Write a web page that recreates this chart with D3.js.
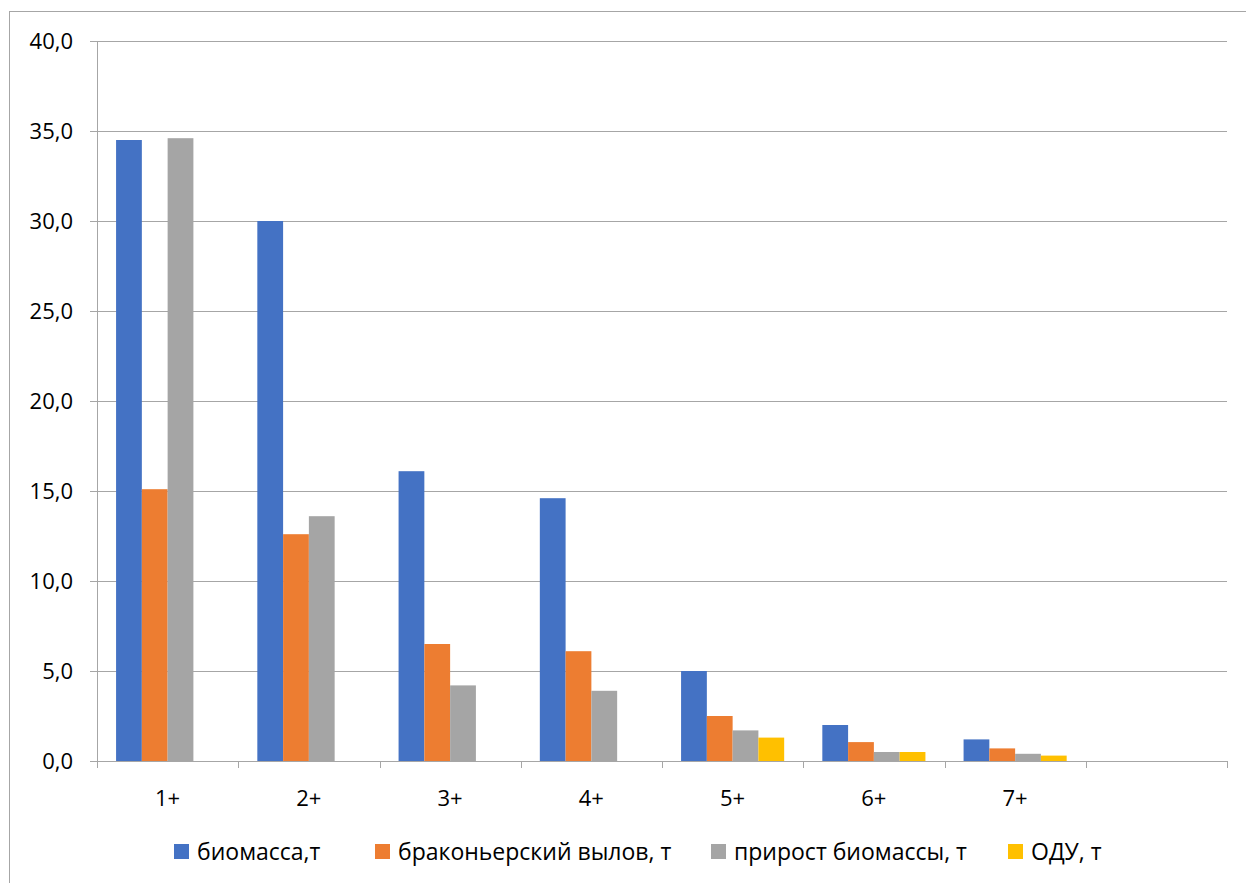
<!DOCTYPE html>
<html><head><meta charset="utf-8">
<script src="https://cdn.jsdelivr.net/npm/d3@7"></script>
<style>body{margin:0;background:#fff}svg{font-family:"Open Sans","DejaVu Sans",sans-serif}</style>
</head><body><div id="chart"></div>
<script>
// age groups (last slot empty in the original)
const categories = ["1+", "2+", "3+", "4+", "5+", "6+", "7+", ""];
const seriesNames = ["биомасса,т", "браконьерский вылов, т", "прирост биомассы, т", "ОДУ, т"];
const biomass = [34.5, 30.0, 16.1, 14.6, 5.0, 2.0, 1.2, 0];
const poaching = [15.1, 12.6, 6.5, 6.1, 2.5, 1.05, 0.7, 0];
const growth = [34.6, 13.6, 4.2, 3.9, 1.7, 0.5, 0.4, 0];
const tac = [0, 0, 0, 0, 1.3, 0.5, 0.3, 0];
const colors = ["#4472c4", "#ed7d31", "#a5a5a5", "#ffc000"];
const yTicks = [0, 5, 10, 15, 20, 25, 30, 35, 40];

const series = [biomass, poaching, growth, tac];
const W = 1246, H = 883;
const svg = d3.select("#chart").append("svg").attr("width", W).attr("height", H);

svg.append("rect").attr("x", 9.5).attr("y", 11.5).attr("width", 1300).attr("height", 900)
  .attr("fill", "none").attr("stroke", "#a6a6a6");

const x = d3.scaleBand().domain(categories.map((c, i) => i)).range([97, 1227]);
const xi = d3.scaleBand().domain(d3.range(4)).range([0, x.bandwidth()]).paddingOuter(0.74);
const y = d3.scaleLinear().domain([0, 40]).range([761, 41]);
const fmt = d3.format(".1f");

svg.append("g").selectAll("line").data(yTicks).join("line")
  .attr("x1", 90).attr("x2", 1227).attr("y1", d => Math.round(y(d)) + 0.5).attr("y2", d => Math.round(y(d)) + 0.5)
  .attr("stroke", "#a6a6a6");
svg.append("line").attr("x1", 97.5).attr("x2", 97.5).attr("y1", 41).attr("y2", 761).attr("stroke", "#a6a6a6");
svg.append("g").selectAll("line").data(d3.range(categories.length + 1)).join("line")
  .attr("x1", i => Math.round(97 + i * x.step()) + 0.5).attr("x2", i => Math.round(97 + i * x.step()) + 0.5)
  .attr("y1", 761).attr("y2", 768).attr("stroke", "#a6a6a6");

svg.append("g").selectAll("text").data(yTicks).join("text")
  .attr("x", 73).attr("y", d => y(d) + 8).attr("text-anchor", "end").attr("font-size", 22).attr("fill", "#000")
  .text(d => fmt(d).replace(".", ","));

series.forEach((vals, s) => {
  svg.append("g").selectAll("rect").data(vals).join("rect")
    .attr("x", (v, i) => x(i) + xi(s)).attr("width", xi.bandwidth())
    .attr("y", v => y(v)).attr("height", v => y(0) - y(v)).attr("fill", colors[s]);
});

svg.append("g").selectAll("text").data(categories).join("text")
  .attr("x", (c, i) => x(i) + x.bandwidth() / 2).attr("y", 806).attr("text-anchor", "middle")
  .attr("font-size", 22).text(d => d);

const legendX = [174, 375, 711, 1008];
const lg = svg.append("g").selectAll("g").data(seriesNames).join("g")
  .attr("transform", (d, i) => `translate(${legendX[i]},844)`);
lg.append("rect").attr("width", 15).attr("height", 15).attr("fill", (d, i) => colors[i]);
lg.append("text").attr("x", 23).attr("y", 16).attr("font-size", 23).text(d => d);
</script></body></html>
